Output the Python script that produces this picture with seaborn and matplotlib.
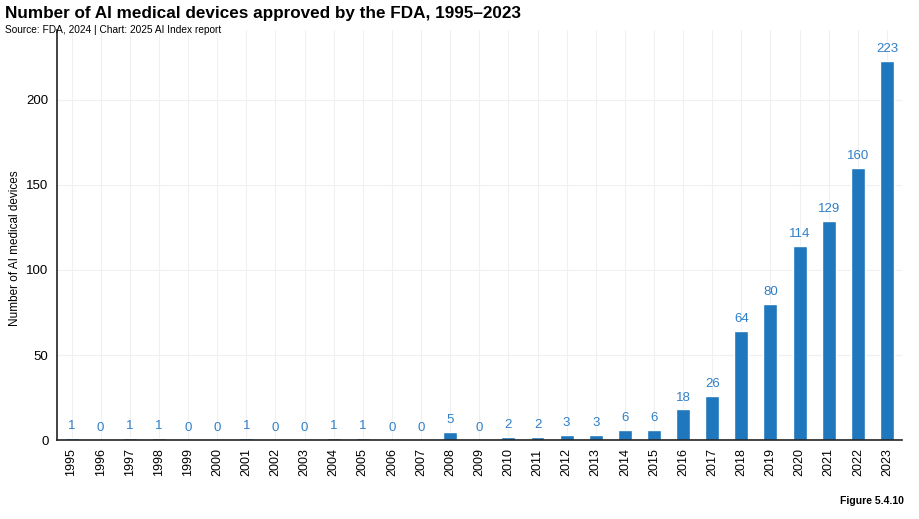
import numpy as np
import pandas as pd
import seaborn as sns
import matplotlib.pyplot as plt

years = [str(y) for y in range(1995, 2024)]
devices = [1, 0, 1, 1, 0, 0, 1, 0, 0, 1, 1, 0, 0, 5, 0, 2, 2, 3, 3, 6, 6,
           18, 26, 64, 80, 114, 129, 160, 223]

df = pd.DataFrame({'year': years, 'devices': devices})

sns.set_style('white')
plt.rcParams['font.family'] = ['Liberation Sans', 'DejaVu Sans']
plt.rcParams['text.color'] = 'black'
plt.rcParams['axes.labelcolor'] = 'black'
plt.rcParams['xtick.color'] = 'black'
plt.rcParams['ytick.color'] = 'black'

fig = plt.figure(figsize=(9.19, 5.19), dpi=100)
ax = fig.add_axes([0.062, 0.152, 0.919, 0.79])

sns.barplot(data=df, x='year', y='devices', color='#1f77bd', width=0.48,
            saturation=1, ax=ax)

for i, v in enumerate(devices):
    ax.text(i, v + 3.5, str(v), ha='center', va='bottom', fontsize=9.5,
            color='#2f7fc8')

ax.set_xlim(-0.5, 28.5)
ax.set_ylim(0, 241)
ax.set_yticks([0, 50, 100, 150, 200])
ax.grid(True, color='#f0f0f0', linewidth=0.8)
ax.set_axisbelow(True)
for s in ['top', 'right']:
    ax.spines[s].set_visible(False)
ax.spines['left'].set_color('#222222')
ax.spines['bottom'].set_color('#222222')
ax.spines['left'].set_linewidth(1.2)
ax.spines['bottom'].set_linewidth(1.2)
ax.tick_params(axis='x', labelrotation=90, labelsize=9, length=0, pad=6)
ax.tick_params(axis='y', labelsize=9.5, length=0, pad=6)
ax.set_xlabel('')
ax.set_ylabel('Number of AI medical devices', fontsize=8.5)
ax.yaxis.set_label_coords(-0.043, 0.468)

fig.text(0.005, 0.965, 'Number of AI medical devices approved by the FDA, 1995–2023',
         fontsize=12.3, fontweight='bold', va='baseline')
fig.text(0.005, 0.937, 'Source: FDA, 2024 | Chart: 2025 AI Index report',
         fontsize=7.3, va='baseline')
fig.text(0.983, 0.028, 'Figure 5.4.10', fontsize=7.5, fontweight='bold',
         ha='right', va='baseline')

fig.savefig('out.png', dpi=100)
